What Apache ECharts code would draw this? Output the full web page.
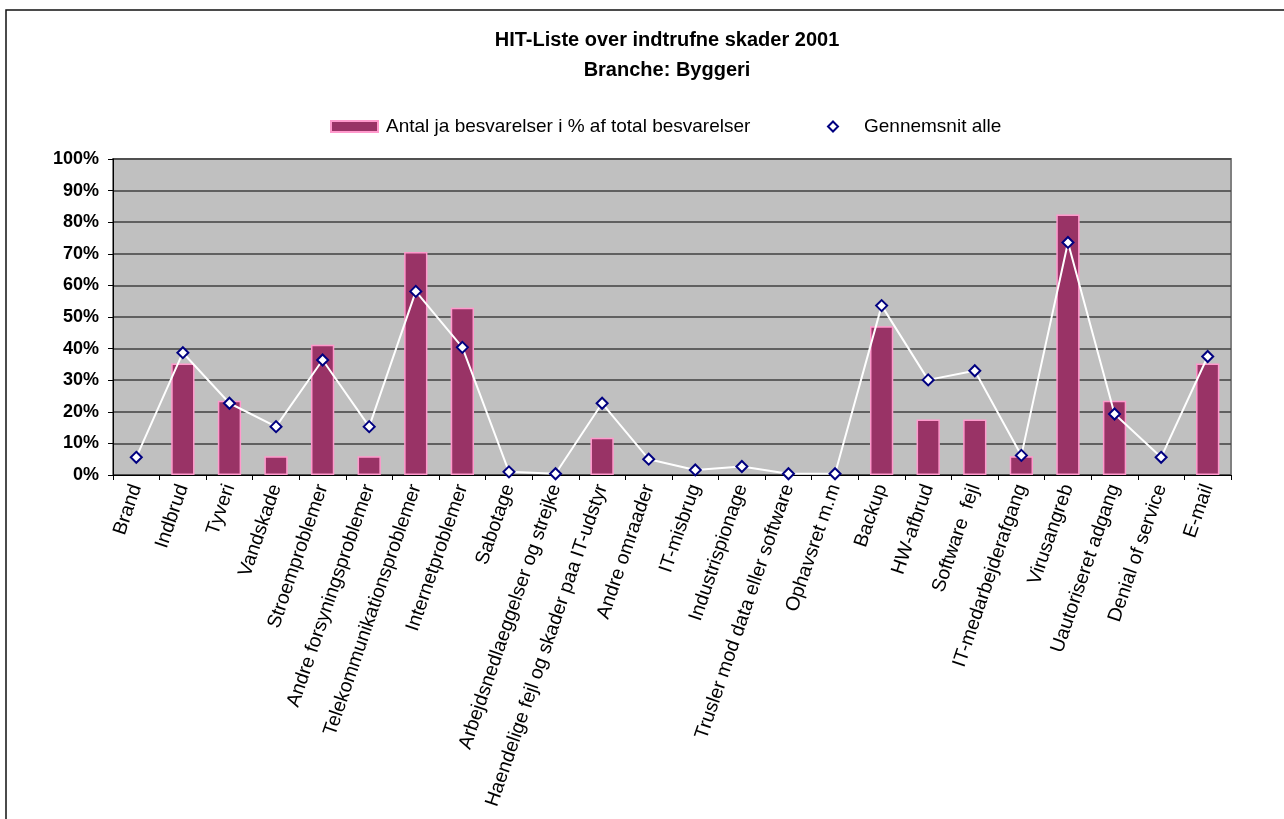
<!DOCTYPE html>
<html>
<head>
<meta charset="utf-8">
<script src="https://cdn.jsdelivr.net/npm/echarts@6/dist/echarts.min.js"></script>
<style>
  html, body { margin: 0; padding: 0; background: #fff; }
  #chart { width: 1284px; height: 819px; }
</style>
</head>
<body>
<div id="chart"></div>
<script>
// kategorier (skadetyper)
var categories = ['Brand', 'Indbrud', 'Tyveri', 'Vandskade', 'Stroemproblemer',
  'Andre forsyningsproblemer', 'Telekommunikationsproblemer', 'Internetproblemer',
  'Sabotage', 'Arbejdsnedlaeggelser og strejke', 'Haendelige fejl og skader paa IT-udstyr',
  'Andre omraader', 'IT-misbrug', 'Industrispionage', 'Trusler mod data eller software',
  'Ophavsret m.m', 'Backup', 'HW-afbrud', 'Software  fejl', 'IT-medarbejderafgang',
  'Virusangreb', 'Uautoriseret adgang', 'Denial of service', 'E-mail']

// Antal ja besvarelser i % (Byggeri)
var byggeri = [0, 35.3, 23.5, 5.9, 41.2, 5.9, 70.6, 52.9, 0, 0, 11.8, 0, 0, 0, 0, 0,
  47.1, 17.6, 17.6, 5.9, 82.4, 23.5, 0, 35.3]

// Gennemsnit alle brancher
var gennemsnit = [5.6, 38.7, 22.7, 15.3, 36.4, 15.3, 58.1, 40.4, 1.0, 0.4, 22.7, 5.0,
  1.6, 2.7, 0.4, 0.4, 53.6, 30.1, 33.0, 6.2, 73.6, 19.3, 5.6, 37.5]

var yTicks = [0, 10, 20, 30, 40, 50, 60, 70, 80, 90, 100]

var font = 'Liberation Sans, Arial, sans-serif'
var myChart = echarts.init(document.getElementById('chart'))

var option = {
  backgroundColor: '#ffffff',
  animation: false,
  graphic: [
    {
      type: 'rect',
      shape: { x: 6, y: 10, width: 1400, height: 900 },
      style: { fill: 'none', stroke: '#111', lineWidth: 1.5 },
      silent: true
    },
    {
      type: 'text',
      x: 667, y: 40,
      style: {
        text: 'HIT-Liste over indtrufne skader 2001',
        align: 'center', verticalAlign: 'middle',
        fontSize: 20, fontWeight: 'bold', fontFamily: font, fill: '#000'
      }
    },
    {
      type: 'text',
      x: 667, y: 70,
      style: {
        text: 'Branche: Byggeri',
        align: 'center', verticalAlign: 'middle',
        fontSize: 20, fontWeight: 'bold', fontFamily: font, fill: '#000'
      }
    }
  ],
  legend: [
    {
      left: 330,
      top: 117,
      padding: 0,
      itemWidth: 47,
      itemHeight: 11,
      data: [{ name: 'Antal ja besvarelser i % af total besvarelser', icon: 'rect' }],
      textStyle: { fontSize: 19, fontFamily: font, color: '#000', padding: [0, 0, 0, 3] }
    },
    {
      left: 827,
      top: 117,
      padding: 0,
      itemWidth: 10,
      itemHeight: 10,
      data: [{ name: 'Gennemsnit alle', icon: 'diamond' }],
      textStyle: { fontSize: 19, fontFamily: font, color: '#000', padding: [0, 0, 0, 21] }
    }
  ],
  grid: {
    left: 113,
    right: 53,
    top: 159,
    bottom: 344,
    show: true,
    backgroundColor: '#c0c0c0',
    borderColor: '#808080',
    borderWidth: 2
  },
  xAxis: {
    type: 'category',
    data: categories,
    boundaryGap: true,
    axisLine: { lineStyle: { color: '#000', width: 1 } },
    axisTick: { show: true, length: 5, lineStyle: { color: '#000' } },
    axisLabel: {
      interval: 0,
      rotate: 71,
      margin: 10,
      fontSize: 19.5,
      fontFamily: font,
      color: '#000'
    },
    splitLine: { show: false }
  },
  yAxis: {
    type: 'value',
    min: yTicks[0],
    max: yTicks[yTicks.length - 1],
    interval: 10,
    axisLine: { show: true, lineStyle: { color: '#000', width: 1 } },
    axisTick: { show: true, length: 5, lineStyle: { color: '#000' } },
    axisLabel: {
      formatter: '{value}%',
      margin: 14,
      fontSize: 18,
      fontWeight: 'bold',
      fontFamily: font,
      color: '#000'
    },
    splitLine: { show: true, lineStyle: { color: '#404040', width: 1.5 } }
  },
  series: [
    {
      name: 'Antal ja besvarelser i % af total besvarelser',
      type: 'bar',
      barWidth: '50%',
      itemStyle: {
        color: '#993366',
        borderColor: '#ff99cc',
        borderWidth: 1.5
      },
      data: byggeri.map(function (v) { return v === 0 ? '-' : v })
    },
    {
      name: 'Gennemsnit alle',
      type: 'line',
      symbol: 'diamond',
      symbolSize: 11,
      lineStyle: { color: '#ffffff', width: 2 },
      itemStyle: { color: '#ffffff', borderColor: '#000080', borderWidth: 2 },
      z: 5,
      data: gennemsnit
    }
  ]
}
myChart.setOption(option)
</script>
</body>
</html>
